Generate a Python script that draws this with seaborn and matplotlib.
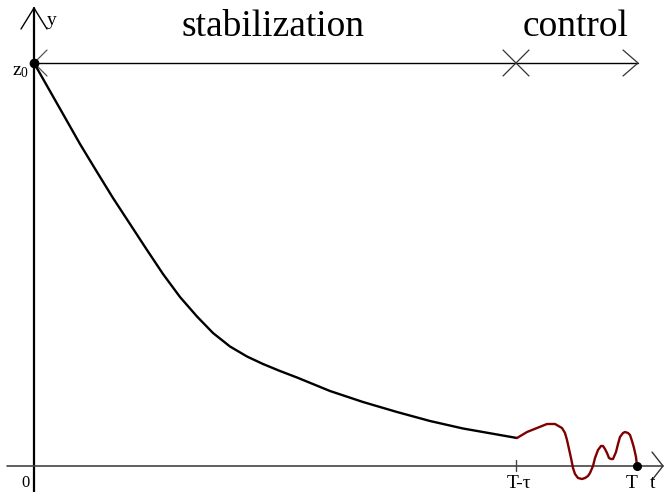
import matplotlib
matplotlib.use("Agg")
import matplotlib.pyplot as plt
import seaborn as sns
import pandas as pd

sns.set_style("white")
plt.rcParams['font.family'] = ['Liberation Serif', 'DejaVu Serif']
plt.rcParams['mathtext.default'] = 'regular'
plt.rcParams['text.color'] = 'black'

# ---- data (t, y) ----
stab_t = [0, 29, 46, 63, 79, 96, 113, 129, 146, 163, 179, 196, 213, 229, 246,
          263, 296, 329, 363, 396, 429, 483]
stab_y = [403, 352, 322, 294, 268, 242, 216, 192, 169, 149.5, 133, 119.5, 109.5, 102, 95,
          88.5, 75, 64, 54, 45, 37.5, 28]

ctrl_t = [483, 493, 503, 513, 521, 528, 531, 533, 535, 537, 539, 541, 544, 548,
          551, 554, 556, 559, 561, 564, 567, 569, 571, 573, 575, 577, 579, 582,
          584, 586, 589, 591, 594, 596, 598, 600, 602, 603]
ctrl_y = [28, 34, 38, 42, 42, 38, 33, 26, 17, 8, -2, -8, -12, -13,
          -12, -10, -7, 0, 8, 16, 20, 20, 17, 13, 8, 7, 7, 14,
          22, 29, 33, 34, 33, 31, 25, 18, 9, 0]

z0 = 403
T_tau = 482
T = 603
labels_x = ["0", "T-τ", "T"]

stab = pd.DataFrame({"t": stab_t, "y": stab_y})
ctrl = pd.DataFrame({"t": ctrl_t, "y": ctrl_y})

fig = plt.figure(figsize=(6.64, 4.92), dpi=100)
ax = fig.add_axes([0, 0, 1, 1])

# axes
ax.plot([0, 0], [-26, 458], color='black', lw=1.6)
ax.plot([-27, 629], [0, 0], color='#444444', lw=1.2)
# y-axis arrow head
ax.plot([-13, 0, 13], [437, 458, 437], color='black', lw=1.0)
# x-axis arrow head
ax.plot([618, 629, 618], [14, 0, -14], color='#333333', lw=1.0)

# time-interval arrow at z0 level
ax.plot([0, T + 1], [z0, z0], color='black', lw=1.0)
ax.plot([13, 0, 13], [z0 + 13, z0, z0 - 13], color='#555555', lw=0.9)
ax.plot([T + 1 - 15, T + 1, T + 1 - 15], [z0 + 13, z0, z0 - 13], color='#333333', lw=0.9)
ax.plot([T_tau - 13, T_tau + 13], [z0 + 13, z0 - 13], color='#333333', lw=0.9)
ax.plot([T_tau - 13, T_tau + 13], [z0 - 13, z0 + 13], color='#333333', lw=0.9)

# tick at T - tau
ax.plot([T_tau, T_tau], [-5, 6], color='#444444', lw=1.0)

# curves
sns.lineplot(data=stab, x="t", y="y", ax=ax, color='black', lw=1.7,
             sort=False, estimator=None)
sns.lineplot(data=ctrl, x="t", y="y", ax=ax, color='#800000', lw=1.7,
             sort=False, estimator=None)

# points
ax.plot([0], [z0], 'o', color='black', ms=6)
ax.plot([T], [0], 'o', color='black', ms=5.5)

ax.set_xlim(-34, 630)
ax.set_ylim(-26, 466)
ax.axis('off')

# texts
ax.text(239, 430, "stabilization", fontsize=27, ha='center', va='baseline')
ax.text(542, 430, "control", fontsize=27, ha='center', va='baseline')
ax.text(13, 441, "y", fontsize=14, ha='left', va='baseline')
ax.text(-5, 391, "z$_0$", fontsize=14, ha='right', va='baseline')
ax.text(-9, -21, labels_x[0], fontsize=12, ha='center', va='baseline')
ax.text(T_tau + 3, -22, labels_x[1], fontsize=14, ha='center', va='baseline')
ax.text(T - 5, -22, labels_x[2], fontsize=14, ha='center', va='baseline')
ax.text(619, -22, "t", fontsize=14, ha='center', va='baseline')

fig.savefig("out.png", dpi=100)
